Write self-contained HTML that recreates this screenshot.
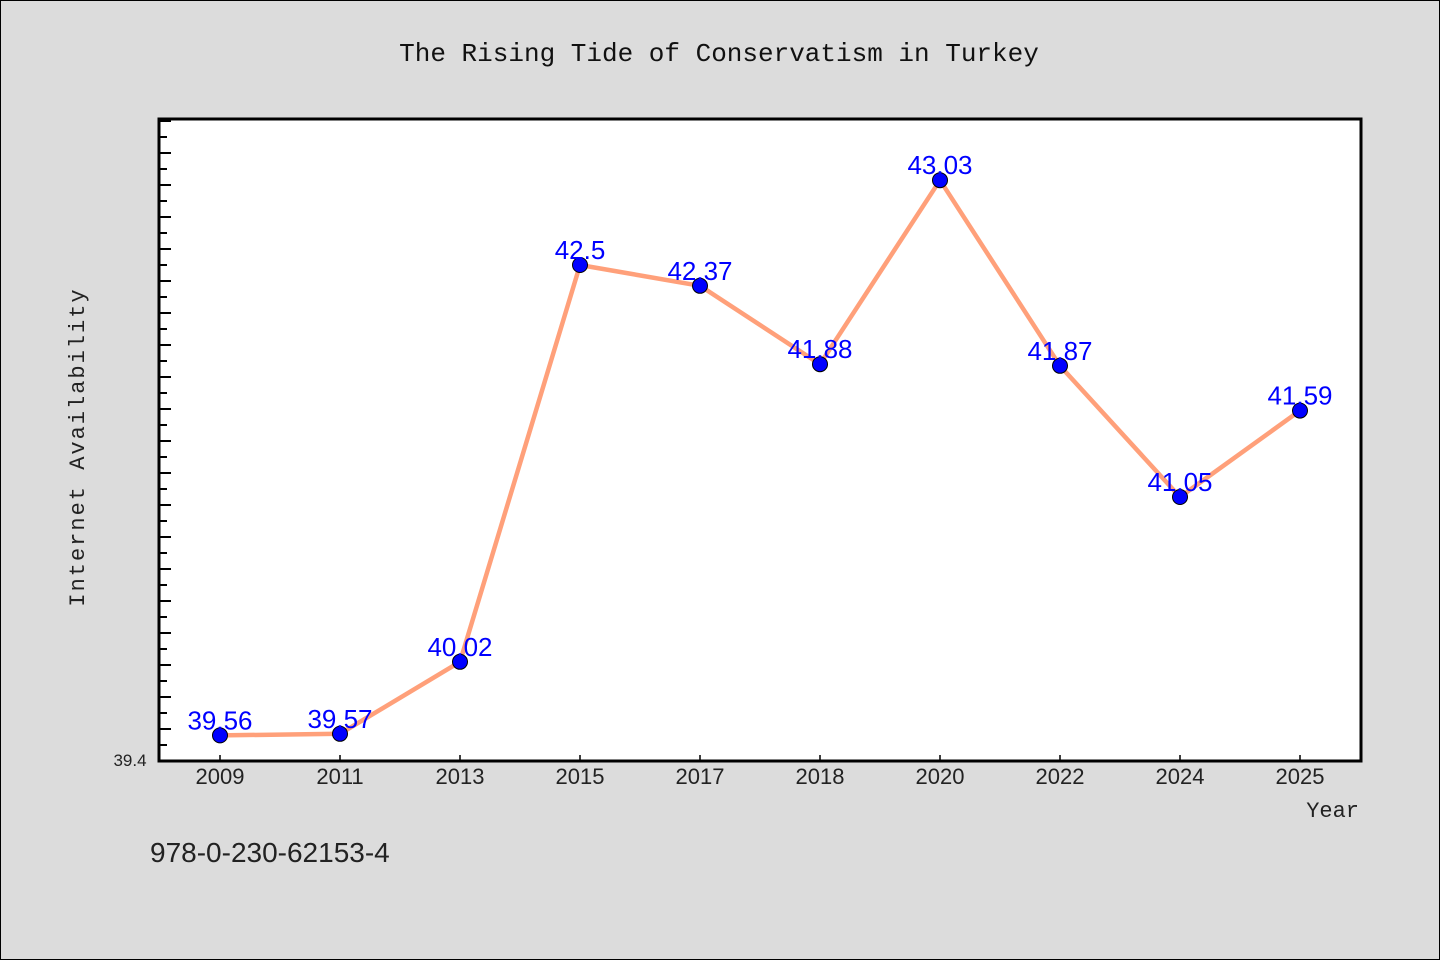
<!DOCTYPE html>
<html><head><meta charset="utf-8"><style>
body{margin:0;background:#dcdcdc;}
svg{display:block;font-family:"WenQuanYi Zen Hei","Liberation Sans",sans-serif;}
</style></head><body>
<svg id="c" width="1440" height="960">
<rect x="0.5" y="0.5" width="1439" height="959" fill="#dcdcdc" stroke="#000" stroke-width="1"/>
<text x="719" y="61" text-anchor="middle" font-size="26" font-family="WenQuanYi Zen Hei Mono, Liberation Mono, monospace" fill="#111">The Rising Tide of Conservatism in Turkey</text>
<rect x="159" y="119" width="1202" height="642" fill="#fff"/>
<g id="ticks"></g>
<g id="xt"></g>
<g id="series"></g>
<rect x="159" y="119" width="1202" height="642" fill="none" stroke="#000" stroke-width="3"/>
<text x="130" y="766" text-anchor="middle" font-size="17" fill="#222">39.4</text>
<text transform="translate(84,447) rotate(-90)" text-anchor="middle" font-size="22" letter-spacing="2" font-family="WenQuanYi Zen Hei Mono, Liberation Mono, monospace" fill="#222">Internet Availability</text>
<text x="1359" y="817" text-anchor="end" font-size="22" font-family="WenQuanYi Zen Hei Mono, Liberation Mono, monospace" fill="#222">Year</text>
<text x="150" y="862" font-size="28" fill="#222">978-0-230-62153-4</text>
</svg>
<script>
const categories=["2009","2011","2013","2015","2017","2018","2020","2022","2024","2025"];
const values=[39.56,39.57,40.02,42.5,42.37,41.88,43.03,41.87,41.05,41.59];
const labels=["39.56","39.57","40.02","42.5","42.37","41.88","43.03","41.87","41.05","41.59"];
const yMin=39.4, yMax=43.4125;
const NS="http://www.w3.org/2000/svg";
const L=159,R=1361,T=119,B=761;
function x(i){return 220+i*(1300-220)/(categories.length-1);}
function y(v){return B-(v-yMin)/(yMax-yMin)*(B-T);}
function mk(t,a,p){const e=document.createElementNS(NS,t);for(const k in a)e.setAttribute(k,a[k]);p.appendChild(e);return e;}
const tg=document.getElementById('ticks');
for(let k=1;;k++){const v=yMin+k*0.1;const yy=y(v);if(yy<T+2)break;
 const ln=mk('line',{x1:L,x2:L+(k%2===0?12:8),y1:yy,y2:yy,stroke:'#000','stroke-width':2},tg);
 
 }
const xg=document.getElementById('xt');
categories.forEach((c,i)=>{
 const ln=mk('line',{x1:x(i),x2:x(i),y1:B-6,y2:B,stroke:'#000','stroke-width':1.5},xg);
 
 
 const t=mk('text',{x:x(i),y:B+23,'text-anchor':'middle','font-size':22,fill:'#222'},xg);
 t.textContent=c;
 
 
});
const sg=document.getElementById('series');
const pl=mk('polyline',{points:values.map((v,i)=>x(i)+','+y(v)).join(' '),fill:'none',stroke:'#ffa07a','stroke-width':4.5,'stroke-linejoin':'round'},sg);


values.forEach((v,i)=>{
 const c=mk('circle',{cx:x(i),cy:y(v),r:7.5,fill:'#0000ff',stroke:'#000','stroke-width':1},sg);
 
 
 const t=mk('text',{x:x(i),y:y(v)-6,'text-anchor':'middle','font-size':26,fill:'#0000ff'},sg);
 t.textContent=labels[i];
 
 
});
</script>
</body></html>
